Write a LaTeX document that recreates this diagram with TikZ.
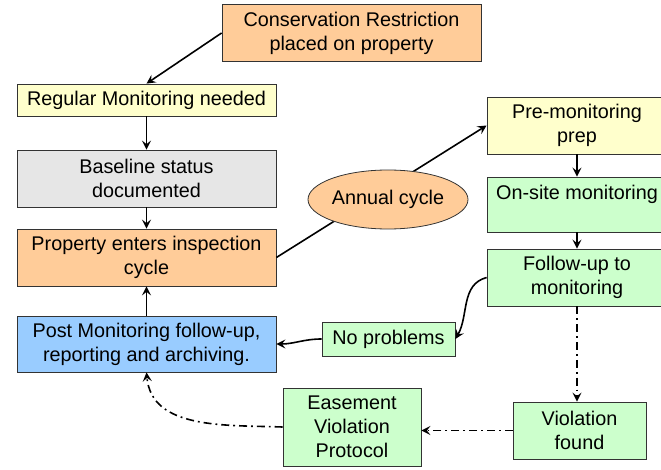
\documentclass[tikz,border=0pt]{standalone}
\usepackage{fontspec}
\setsansfont{Liberation Sans}
\usetikzlibrary{arrows.meta,shapes.geometric}
\definecolor{boxorange}{HTML}{FFCC99}
\definecolor{boxyellow}{HTML}{FFFFCC}
\definecolor{boxgrey}{HTML}{E6E6E6}
\definecolor{boxblue}{HTML}{99CCFF}
\definecolor{boxgreen}{HTML}{CCFFCC}
\tikzset{
	box/.style = { font=\sffamily\fontsize{19.8}{24}\selectfont, draw=black!80, line width=0.8pt, inner sep=0pt, align=center, minimum width=259pt, minimum height=57pt },
	arrow/.style = { line width=1.6pt, color=black, -{Stealth[length=9pt,width=9pt,inset=3.5pt]} },
	dashdot/.style = { arrow, dash pattern=on 8pt off 4pt on 1.8pt off 4pt },
}

\begin{document}
\begin{tikzpicture}[x=1pt,y=-1pt]
\clip (0,0) rectangle (661,470);
\node[box, fill=boxorange] (cons) at (351.5,33) {Conservation Restriction\\placed on property};
\node[box, fill=boxyellow, minimum height=32pt] (reg) at (146.5,100) {Regular Monitoring needed};
\node[box, fill=boxgrey] (base) at (146.5,178.5) {Baseline status\\documented};
\node[box, fill=boxorange] (prop) at (146.5,257.5) {Property enters inspection\\cycle};
\node[box, fill=boxblue, minimum height=56pt] (post) at (146.5,344) {Post Monitoring follow-up,\\reporting and archiving.};
\node[box, fill=boxyellow, minimum width=180pt] (pre) at (577,125.5) {Pre-monitoring\\prep};
\node[box, fill=boxgreen, minimum width=180pt, minimum height=55pt] (site) at (577,204.5) {On-site monitoring\\\mbox{}};
\node[box, fill=boxgreen, minimum width=180pt] (follow) at (577,277.5) {Follow-up to\\monitoring};
\node[box, fill=boxgreen, minimum width=133pt, minimum height=34pt] (noprob) at (388.5,339) {No problems};
\node[box, fill=boxgreen, minimum width=133pt] (viol) at (579.5,430.5) {Violation\\found};
\node[box, fill=boxgreen, minimum width=138pt, minimum height=78pt] (easement) at (352,427) {Easement\\Violation\\Protocol};

\draw[arrow] (cons.west) -- (reg.north);
\draw[arrow] (reg) -- (base);
\draw[arrow] (base) -- (prop);
\draw[arrow] (post) -- (prop);
\draw[arrow] (prop.east) -- (pre.west);
\node[box, ellipse, fill=boxorange, minimum width=160pt, minimum height=59pt] (annual) at (388,199.5) {Annual cycle};
\draw[arrow] (pre) -- (site);
\draw[arrow] (site) -- (follow);
\draw[arrow] (follow.west) to[out=195,in=60] (noprob.east);
\draw[arrow] (noprob.west) to[out=180,in=0] (post.east);
\draw[dashdot] (follow.south) -- (follow.south |- viol.north);
\draw[dashdot] (viol.west) -- (viol.west -| easement.east);
\draw[dashdot] (easement.west) to[out=178,in=-85] (post.south);
\end{tikzpicture}
\end{document}
